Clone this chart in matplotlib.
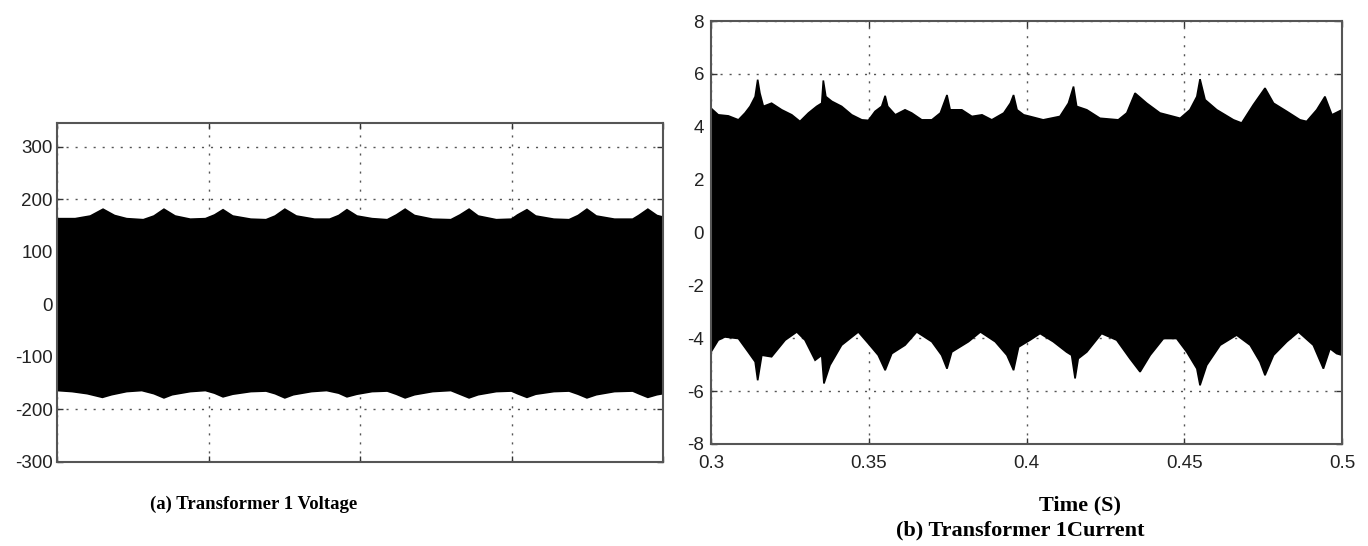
import numpy as np
import matplotlib
matplotlib.use("Agg")
import matplotlib.pyplot as plt

plt.rcParams['axes.unicode_minus'] = False

# envelope of transformer 1 voltage (V)
volt_t_top = [0.300, 0.306, 0.311, 0.3152, 0.319, 0.323, 0.3285, 0.332, 0.3353, 0.339,
              0.344, 0.349, 0.352, 0.3548, 0.358, 0.364, 0.369, 0.372, 0.3752, 0.379,
              0.385, 0.390, 0.393, 0.3957, 0.399, 0.404, 0.409, 0.412, 0.4149, 0.418,
              0.424, 0.430, 0.433, 0.4360, 0.439, 0.445, 0.450, 0.452, 0.4551, 0.458,
              0.464, 0.469, 0.472, 0.4749, 0.478, 0.484, 0.490, 0.492, 0.4950, 0.498, 0.500]
volt_top = [163, 163, 168, 181, 169, 163, 161, 168, 181, 168,
            162, 163, 170, 180, 168, 162, 161, 168, 181, 168,
            162, 162, 169, 180, 168, 163, 161, 170, 181, 169,
            162, 161, 170, 181, 168, 161, 162, 170, 180, 168,
            162, 161, 169, 181, 168, 162, 162, 169, 181, 169, 166]
volt_t_bot = [0.300, 0.305, 0.310, 0.3150, 0.318, 0.323, 0.328, 0.332, 0.3353, 0.338,
              0.344, 0.349, 0.352, 0.3548, 0.358, 0.364, 0.369, 0.372, 0.3752, 0.378,
              0.384, 0.389, 0.393, 0.3957, 0.399, 0.404, 0.409, 0.412, 0.4149, 0.418,
              0.424, 0.430, 0.433, 0.4360, 0.439, 0.445, 0.450, 0.452, 0.4551, 0.458,
              0.464, 0.469, 0.472, 0.4749, 0.478, 0.484, 0.490, 0.492, 0.4950, 0.498, 0.500]
volt_bot = [-164, -166, -170, -177, -172, -166, -164, -170, -178, -172,
            -166, -164, -169, -176, -171, -166, -165, -170, -178, -172,
            -166, -164, -169, -176, -171, -166, -165, -171, -178, -172,
            -166, -164, -171, -178, -172, -166, -165, -170, -177, -171,
            -166, -165, -171, -178, -172, -166, -165, -170, -177, -172, -170]

# envelope of transformer 1 current (A)
curr_t_top = [0.3000, 0.3023, 0.3055, 0.3087, 0.3108, 0.3124, 0.3140, 0.3148, 0.3155, 0.3166,
              0.3192, 0.3224, 0.3256, 0.3282, 0.3309, 0.3335, 0.3351, 0.3356, 0.3364, 0.3383,
              0.3414, 0.3446, 0.3478, 0.3499, 0.3520, 0.3541, 0.3552, 0.3560, 0.3584, 0.3615,
              0.3636, 0.3668, 0.3700, 0.3727, 0.3748, 0.3758, 0.3795, 0.3827, 0.3859, 0.3890,
              0.3928, 0.3949, 0.3959, 0.3970, 0.3991, 0.4011, 0.4053, 0.4106, 0.4133, 0.4149,
              0.4159, 0.4191, 0.4233, 0.4291, 0.4318, 0.4344, 0.4381, 0.4423, 0.4487, 0.4518,
              0.4540, 0.4550, 0.4566, 0.4603, 0.4656, 0.4682, 0.4719, 0.4756, 0.4783, 0.4825,
              0.4867, 0.4888, 0.4920, 0.4946, 0.4968, 0.5000]
curr_top = [4.70, 4.45, 4.41, 4.26, 4.52, 4.77, 5.14, 5.78, 5.27, 4.77,
            4.89, 4.64, 4.45, 4.20, 4.52, 4.77, 4.89, 5.75, 5.14, 4.96,
            4.77, 4.45, 4.26, 4.24, 4.58, 4.77, 5.17, 4.77, 4.45, 4.64,
            4.52, 4.26, 4.26, 4.52, 5.20, 4.64, 4.64, 4.39, 4.45, 4.26,
            4.52, 4.89, 5.20, 4.64, 4.45, 4.39, 4.26, 4.39, 4.89, 5.52,
            4.77, 4.64, 4.32, 4.26, 4.52, 5.27, 4.89, 4.52, 4.32, 4.64,
            5.14, 5.80, 5.02, 4.64, 4.26, 4.14, 4.83, 5.46, 4.89, 4.58,
            4.26, 4.20, 4.64, 5.14, 4.45, 4.64]
curr_t_bot = [0.3000, 0.3023, 0.3044, 0.3087, 0.3118, 0.3140, 0.3148, 0.3161, 0.3192, 0.3235,
              0.3272, 0.3298, 0.3330, 0.3351, 0.3358, 0.3377, 0.3414, 0.3467, 0.3499, 0.3530,
              0.3552, 0.3573, 0.3615, 0.3652, 0.3700, 0.3731, 0.3748, 0.3763, 0.3816, 0.3854,
              0.3901, 0.3938, 0.3959, 0.3975, 0.4011, 0.4043, 0.4085, 0.4127, 0.4143, 0.4154,
              0.4164, 0.4191, 0.4238, 0.4286, 0.4328, 0.4360, 0.4392, 0.4434, 0.4476, 0.4508,
              0.4540, 0.4550, 0.4571, 0.4614, 0.4666, 0.4709, 0.4740, 0.4756, 0.4783, 0.4825,
              0.4862, 0.4909, 0.4941, 0.4962, 0.4983, 0.5000]
curr_bot = [-4.52, -4.07, -3.95, -4.01, -4.52, -4.89, -5.59, -4.64, -4.70, -4.07,
            -3.76, -4.07, -4.83, -4.64, -5.71, -5.02, -4.26, -3.76, -4.20, -4.64,
            -5.21, -4.58, -4.26, -3.76, -4.13, -4.64, -5.15, -4.52, -4.13, -3.76,
            -4.13, -4.64, -5.21, -4.33, -4.07, -3.82, -4.13, -4.52, -4.64, -5.52,
            -4.77, -4.52, -3.82, -4.07, -4.77, -5.27, -4.64, -4.01, -4.01, -4.52,
            -5.15, -5.78, -5.02, -4.26, -3.88, -4.26, -4.89, -5.40, -4.64, -4.13,
            -3.76, -4.26, -5.15, -4.39, -4.58, -4.64]

x_ticks = [0.3, 0.35, 0.4, 0.45, 0.5]
volt_yticks = [-300, -200, -100, 0, 100, 200, 300]
curr_yticks = [-8, -6, -4, -2, 0, 2, 4, 6, 8]

tick_font = {'family': 'Liberation Sans', 'size': 13.5, 'color': '#222222'}
cap_font = {'family': 'Liberation Serif', 'weight': 'bold', 'color': 'black'}


def draw_band(ax, t_top, top, t_bot, bot):
    xs = np.concatenate([t_top, t_bot[::-1]])
    ys = np.concatenate([top, bot[::-1]])
    ax.fill(xs, ys, color='black', lw=1.2, zorder=2)


def style_axes(ax):
    ax.set_axisbelow(True)
    ax.grid(True, color='#555555', linestyle=(0, (1.5, 5)), linewidth=1.0)
    ax.tick_params(direction='in', length=4, width=1, top=True, right=True, color='#333333')
    for s in ax.spines.values():
        s.set_color('#555555')
        s.set_linewidth(1.5)
        s.set_zorder(4)


fig = plt.figure(figsize=(13.68, 5.46), dpi=100)

# (a) voltage
ax1 = fig.add_axes([57 / 1368, 1 - 462 / 546, 606 / 1368, 339 / 546])
draw_band(ax1, np.array(volt_t_top), np.array(volt_top), np.array(volt_t_bot), np.array(volt_bot))
ax1.set_xlim(0.3, 0.5)
ax1.set_ylim(-300, 345)
ax1.set_xticks(x_ticks)
ax1.set_xticklabels([])
ax1.set_yticks(volt_yticks)
ax1.set_yticklabels([str(v) for v in volt_yticks], fontdict=tick_font)
style_axes(ax1)
ax1.tick_params(axis='y', pad=3)

# (b) current
ax2 = fig.add_axes([711 / 1368, 1 - 444 / 546, 631 / 1368, 423 / 546])
draw_band(ax2, np.array(curr_t_top), np.array(curr_top), np.array(curr_t_bot), np.array(curr_bot))
ax2.set_xlim(0.3, 0.5)
ax2.set_ylim(-8, 8)
ax2.set_xticks(x_ticks)
ax2.set_xticklabels([f"{v:g}" for v in x_ticks], fontdict=tick_font)
ax2.set_yticks(curr_yticks)
ax2.set_yticklabels([str(v) for v in curr_yticks], fontdict=tick_font)
style_axes(ax2)
ax2.tick_params(axis='x', pad=8)
ax2.tick_params(axis='y', pad=5)

fig.text(254 / 1368, 1 - 504 / 546, "(a) Transformer 1 Voltage", ha='center', va='center',
         fontdict=cap_font, fontsize=13.5)
fig.text(1080 / 1368, 1 - 505 / 546, "Time (S)", ha='center', va='center',
         fontdict=cap_font, fontsize=16)
fig.text(1020 / 1368, 1 - 530 / 546, "(b) Transformer 1Current", ha='center', va='center',
         fontdict=cap_font, fontsize=16)

fig.savefig("out.png", dpi=100)
